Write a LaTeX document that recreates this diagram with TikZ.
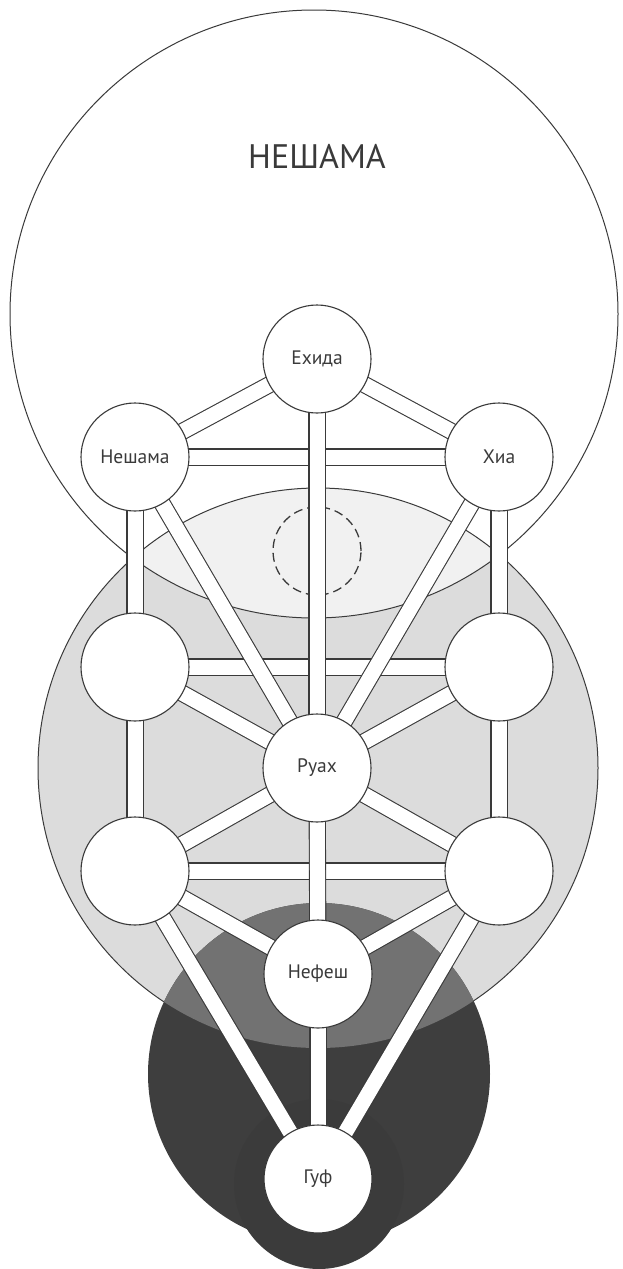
\documentclass[tikz,border=0pt]{standalone}
\usepackage{fontspec}
\setmainfont{PT Sans}
\usetikzlibrary{positioning}

\definecolor{linec}{HTML}{3A3A3A}
\definecolor{ruachgray}{HTML}{DCDCDC}
\definecolor{lensgray}{HTML}{F1F1F1}
\definecolor{nefeshgray}{HTML}{727272}
\definecolor{gufgray}{HTML}{3E3E3E}
\definecolor{gufdeep}{HTML}{3B3B3B}

\pgfdeclarelayer{zones}
\pgfdeclarelayer{paths}
\pgfsetlayers{zones,paths,main}

\begin{document}
\begin{tikzpicture}[x=1pt, y=-1pt, line width=1.1pt,
    sefira/.style={circle, draw=linec, fill=white, minimum size=108pt, inner sep=0pt, text=linec, font=\fontsize{19.5}{19.5}\selectfont},
    conduit/.style={draw=linec, line width=1.1pt, double=white, double distance=15pt}]
    \useasboundingbox (0,0) rectangle (623,1269);

    % Sefirot
    \node[sefira] (S_EH) at (317,359) {Ехида};
    \node[sefira] (S_NS) at (135,457) {Нешама};
    \node[sefira] (S_HA) at (499,457) {Хиа};
    \node[sefira] (S_L2) at (135,667) {};
    \node[sefira] (S_R2) at (499,667) {};
    \node[sefira] (S_RU) at (317,768) {Руах};
    \node[sefira] (S_L3) at (135,871) {};
    \node[sefira] (S_R3) at (499,871) {};
    \node[sefira] (S_NF) at (318,974) {Нефеш};
    \node[sefira] (S_GF) at (318,1179) {Гуф};

    \node[text=linec, font=\fontsize{34}{34}\selectfont] (title) at (317,156) {НЕШАМА};

    % Soul zones
    \begin{pgfonlayer}{zones}
        \fill[ruachgray] (318,768) circle [radius=280];
        \fill[white] (314,314) circle [radius=304];
        \begin{scope}
            \clip (314,314) circle [radius=304];
            \fill[lensgray] (318,768) circle [radius=280];
        \end{scope}
        \draw[linec, line width=1pt] (314,314) circle [radius=304];
        \draw[linec, line width=1pt] (318,768) circle [radius=280];
        \fill[gufgray] (319,1074) circle [radius=171];
        \begin{scope}
            \clip (318,768) circle [radius=280];
            \fill[nefeshgray] (319,1074) circle [radius=171];
        \end{scope}
        \fill[gufdeep] (319,1184) circle [radius=85];
        \node[circle, draw=linec, line width=1.3pt, dash pattern=on 9pt off 5pt, minimum size=88pt, inner sep=0pt] (daat) at (317,551) {};
    \end{pgfonlayer}

    % Paths - horizontals, diagonals, verticals
    \begin{pgfonlayer}{paths}
        \draw[conduit] (S_NS.center) -- (S_HA.center); \draw[conduit] (S_L2.center) -- (S_R2.center);
        \draw[conduit] (S_L3.center) -- (S_R3.center);

        \draw[conduit] (S_EH.center) -- (S_NS.center); \draw[conduit] (S_EH.center) -- (S_HA.center);
        \draw[conduit] (S_NS.center) -- (S_RU.center); \draw[conduit] (S_HA.center) -- (S_RU.center);
        \draw[conduit] (S_L2.center) -- (S_RU.center); \draw[conduit] (S_R2.center) -- (S_RU.center);
        \draw[conduit] (S_L3.center) -- (S_RU.center); \draw[conduit] (S_R3.center) -- (S_RU.center);
        \draw[conduit] (S_L3.center) -- (S_NF.center); \draw[conduit] (S_R3.center) -- (S_NF.center);
        \draw[conduit] (S_L3.center) -- (S_GF.center); \draw[conduit] (S_R3.center) -- (S_GF.center);

        \draw[conduit] (S_EH.center) -- (S_RU.center); \draw[conduit] (S_RU.center) -- (S_NF.center);
        \draw[conduit] (S_NF.center) -- (S_GF.center);
        \draw[conduit] (S_NS.center) -- (S_L2.center); \draw[conduit] (S_L2.center) -- (S_L3.center);
        \draw[conduit] (S_HA.center) -- (S_R2.center); \draw[conduit] (S_R2.center) -- (S_R3.center);
    \end{pgfonlayer}

\end{tikzpicture}
\end{document}
